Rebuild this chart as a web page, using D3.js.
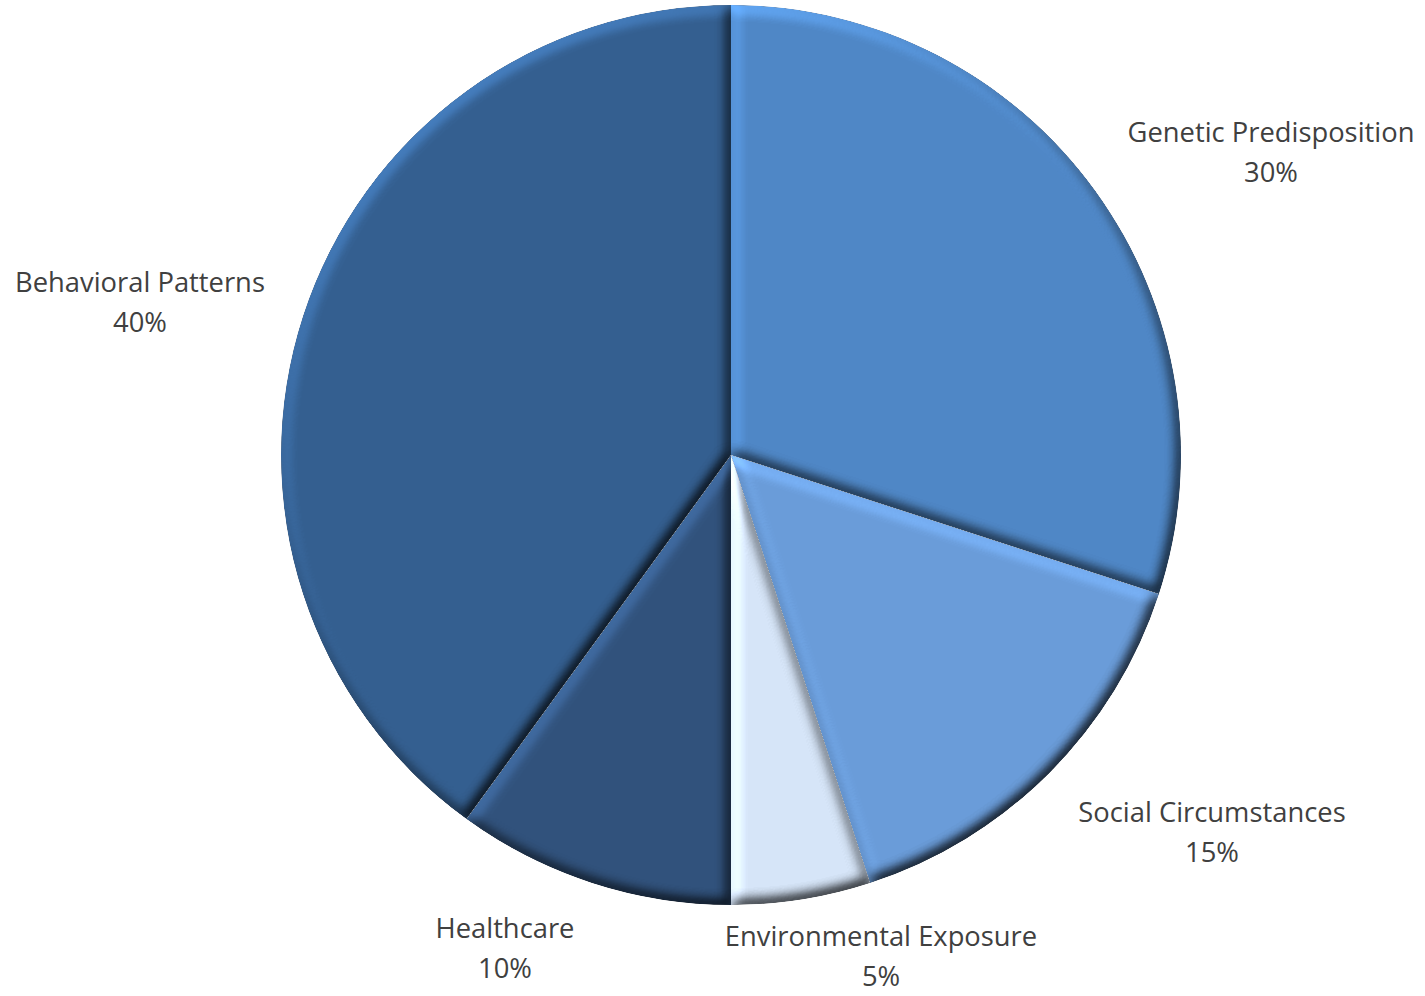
<!DOCTYPE html>
<html>
<head>
<meta charset="utf-8">
<script src="https://cdn.jsdelivr.net/npm/d3@7"></script>
<style>
  html, body { margin: 0; padding: 0; background: #ffffff; }
  svg { display: block; }
</style>
</head>
<body>
<svg id="chart" width="1425" height="996"></svg>
<script>
// Share of factors contributing to health outcomes
const categories = ["Genetic Predisposition", "Social Circumstances", "Environmental Exposure", "Healthcare", "Behavioral Patterns"];
const values = [30, 15, 5, 10, 40];
const sliceColors = ["#4f87c6", "#6a9cd9", "#d6e5f8", "#31527c", "#345f90"];

// Label anchors: centre x and first-line baseline of each two-line label
const labelAnchors = [[1271, 142], [1212, 822], [881, 946], [505, 938], [140, 292]];

const W = 1425, H = 996;
const cx = 731, cy = 455, R = 450;

const svg = d3.select("#chart");

// Bevel: lit from the upper left, computed from each slice's blurred alpha
const defs = svg.append("defs");
const f = defs.append("filter").attr("id", "bevel")
  .attr("x", "-10%").attr("y", "-10%").attr("width", "120%").attr("height", "120%")
  .attr("color-interpolation-filters", "sRGB");
f.append("feGaussianBlur").attr("in", "SourceAlpha").attr("stdDeviation", 6.5).attr("result", "blur");
const diff = f.append("feDiffuseLighting").attr("in", "blur").attr("surfaceScale", 6)
  .attr("diffuseConstant", 1).attr("lighting-color", "#ffffff").attr("result", "light");
diff.append("feDistantLight").attr("azimuth", 235).attr("elevation", 50);
f.append("feComposite").attr("in", "SourceGraphic").attr("in2", "light")
  .attr("operator", "arithmetic").attr("k1", 1.3054).attr("k2", 0).attr("k3", 0).attr("k4", 0).attr("result", "lit");
f.append("feComposite").attr("in", "lit").attr("in2", "SourceAlpha").attr("operator", "in");

const pie = d3.pie().sort(null).value(d => d.value);
const arc = d3.arc().innerRadius(0).outerRadius(R);

const data = categories.map((c, i) => ({ name: c, value: values[i], color: sliceColors[i], anchor: labelAnchors[i] }));
const arcs = pie(data);

const g = svg.append("g").attr("transform", `translate(${cx},${cy})`);
g.selectAll("path.slice")
  .data(arcs)
  .join("path")
  .attr("class", "slice")
  .attr("d", arc)
  .attr("fill", d => d.data.color)
  .attr("filter", "url(#bevel)");

// Data labels: category name with percentage underneath
const total = d3.sum(values);
const fmt = d3.format(".0%");
const fontFamily = "'Open Sans', 'Noto Sans', sans-serif";

// size the label font so the widest name spans the intended width
const probe = svg.append("text").attr("font-family", fontFamily).attr("font-size", 100)
  .text(categories[0]);
const probeW = probe.node().getComputedTextLength();
probe.remove();
const fontSize = Math.min(28, 100 * 287 / probeW);

const labels = svg.append("g").attr("font-family", fontFamily).attr("font-size", fontSize)
  .attr("fill", "#404040").attr("text-anchor", "middle");
labels.selectAll("text")
  .data(arcs)
  .join("text")
  .attr("x", d => d.data.anchor[0])
  .attr("y", d => d.data.anchor[1])
  .each(function(d) {
    const t = d3.select(this);
    t.append("tspan").attr("x", d.data.anchor[0]).text(d.data.name);
    t.append("tspan").attr("x", d.data.anchor[0]).attr("dy", 40).text(fmt(d.data.value / total));
  });
</script>
</body>
</html>
